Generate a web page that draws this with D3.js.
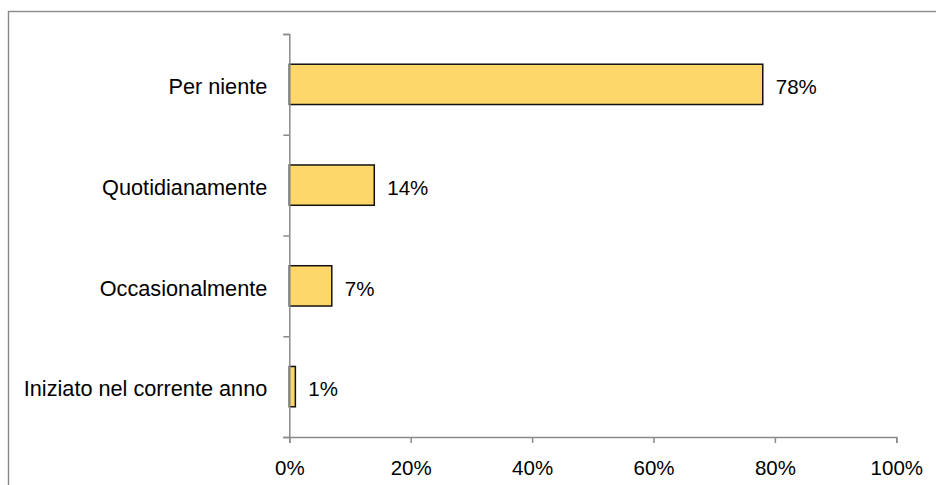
<!DOCTYPE html>
<html>
<head>
<meta charset="utf-8">
<script src="https://cdn.jsdelivr.net/npm/d3@7/dist/d3.min.js"></script>
<style>
  html, body { margin: 0; padding: 0; background: #fff; }
  svg { display: block; }
  text { font-family: "Liberation Sans", Arial, sans-serif; fill: #000; }
</style>
</head>
<body>
<svg id="chart" width="936" height="485"></svg>
<script>
// Categories, top to bottom
const categories = [
  "Per niente",
  "Quotidianamente",
  "Occasionalmente",
  "Iniziato nel corrente anno"
];
// Share of respondents (%)
const values = [78, 14, 7, 1];
// X axis tick values (%)
const xTicks = [0, 20, 40, 60, 80, 100];

const data = categories.map((c, i) => ({ category: c, value: values[i] }));

const svg = d3.select("#chart");
const fontSize = 20.5;
const labelFontSize = 21.7;
const axisColor = "#8a8a8a";

// Outer chart frame (runs past the right and bottom edges)
svg.append("rect")
  .attr("x", 8.5).attr("y", 11.5)
  .attr("width", 960).attr("height", 500)
  .attr("fill", "none")
  .attr("stroke", axisColor)
  .attr("stroke-width", 1.4);

const plot = { left: 289.3, right: 896.3, top: 34, bottom: 437 };

const x = d3.scaleLinear().domain([0, 100]).range([plot.left, plot.right]);
const y = d3.scaleBand()
  .domain(categories)
  .range([plot.top, plot.bottom])
  .paddingInner(0.6)
  .paddingOuter(0.3);

// Bars
svg.append("g").selectAll("rect")
  .data(data)
  .join("rect")
  .attr("x", x(0))
  .attr("y", d => y(d.category))
  .attr("width", d => x(d.value) - x(0))
  .attr("height", y.bandwidth())
  .attr("fill", "#FDD76A")
  .attr("stroke", "#111")
  .attr("stroke-width", 1.5);

// Value labels
svg.append("g").selectAll("text")
  .data(data)
  .join("text")
  .attr("x", d => x(d.value) + 13)
  .attr("y", d => y(d.category) + y.bandwidth() / 2)
  .attr("dy", "0.47em")
  .style("font-size", fontSize + "px")
  .text(d => d.value + "%");

// X axis
const xAxis = svg.append("g")
  .attr("transform", `translate(0,${plot.bottom})`)
  .call(d3.axisBottom(x)
    .tickValues(xTicks)
    .tickFormat(d => d + "%")
    .tickSize(6)
    .tickSizeOuter(6)
    .tickPadding(17));
xAxis.selectAll("text").style("font-size", fontSize + "px");

// Y axis: boundary ticks between categories
const yEdge = d3.scaleLinear()
  .domain([0, categories.length])
  .range([plot.top, plot.bottom]);
svg.append("g")
  .attr("transform", `translate(${plot.left},0)`)
  .call(d3.axisLeft(yEdge)
    .tickValues(d3.range(categories.length + 1))
    .tickFormat("")
    .tickSize(6)
    .tickSizeOuter(6));

// Y axis: category labels centred on bars
const yLabels = svg.append("g")
  .attr("transform", `translate(${plot.left},0)`)
  .call(d3.axisLeft(y).tickSize(0).tickPadding(22));
yLabels.select(".domain").remove();
yLabels.selectAll("text")
  .attr("dy", "0.45em")
  .style("font-size", labelFontSize + "px");

svg.selectAll(".domain, .tick line")
  .attr("stroke", axisColor)
  .attr("stroke-width", 1.5);
svg.selectAll(".tick text").attr("fill", "#000");
</script>
</body>
</html>
